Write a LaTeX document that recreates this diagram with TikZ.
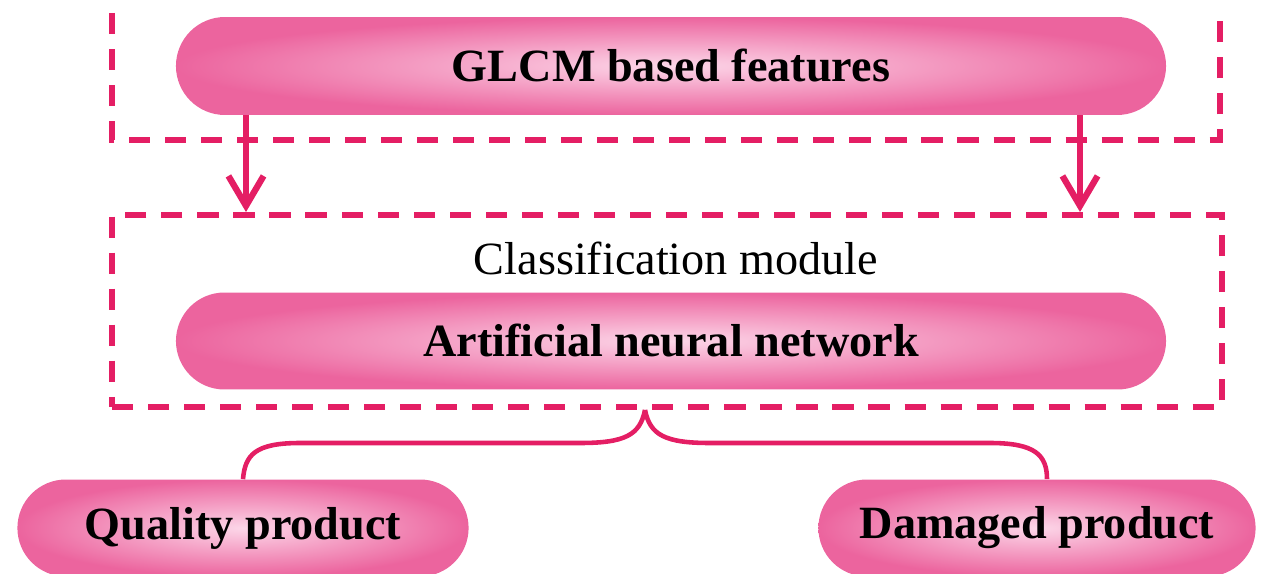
\documentclass[tikz,border=0pt]{standalone}
\usepackage{fontspec}
\setmainfont{Liberation Serif}
\usetikzlibrary{arrows.meta,shapes.misc}
\definecolor{linepink}{RGB}{228,30,100}
\definecolor{pilldeep}{RGB}{236,100,158}
\definecolor{pilllight}{RGB}{252,214,232}
\tikzset{
    pill/.style={rounded rectangle,inner color=pilllight,outer color=pilldeep,text=black,font=\fontsize{26.3}{30}\selectfont\bfseries},
    dashbox/.style={draw=linepink,line width=3.4pt,dash pattern=on 12pt off 8.5pt},
    arr/.style={draw=linepink,line width=3.6pt,-{Straight Barb[length=17pt,width=20pt]}},
    link/.style={draw=linepink,line width=2.6pt}
}
\begin{document}
\begin{tikzpicture}[x=0.02cm,y=-0.02cm]
            \clip (0,0) rectangle (1267,574);
            \draw[dashbox] (112,13) -- (112,140) -- (1220,140) -- (1220,13);
            \node[dashbox,minimum width=22.2cm,minimum height=3.84cm] (cls) at (667,311) {};
            \node[pill,minimum width=20.04cm,minimum height=1.96cm] (glcm) at (671,66) {GLCM based features};
            \node[font=\fontsize{26.3}{30}\selectfont] (clslabel) at (676,258) {Classification module};
            \node[pill,minimum width=20.04cm,minimum height=1.94cm] (ann) at (671,341) {Artificial neural network};
            \node[pill,minimum width=9.26cm,minimum height=1.94cm] (qual) at (243,528) {Quality product};
            \node[pill,minimum width=8.98cm,minimum height=1.94cm] (dam) at (1037,528) {Damaged product};
            % arrows from the feature box
            \coordinate (al) at (246,0);
            \coordinate (ar) at (1080,0);
            \draw[arr] (al |- glcm.south) -- (al |- cls.north);
            \draw[arr] (ar |- glcm.south) -- (ar |- cls.north);
            % split to the two results
            \coordinate (tip) at (645,0);
            \draw[link] (tip |- cls.south) .. controls (640,435) and (625,443) .. (580,443) -- (300,443) .. controls (255,443) and (245,455) .. (qual.north);
            \draw[link] (tip |- cls.south) .. controls (650,435) and (665,443) .. (710,443) -- (990,443) .. controls (1035,443) and (1047,455) .. ([xshift=0.2cm]dam.north);
        \end{tikzpicture}
\end{document}
